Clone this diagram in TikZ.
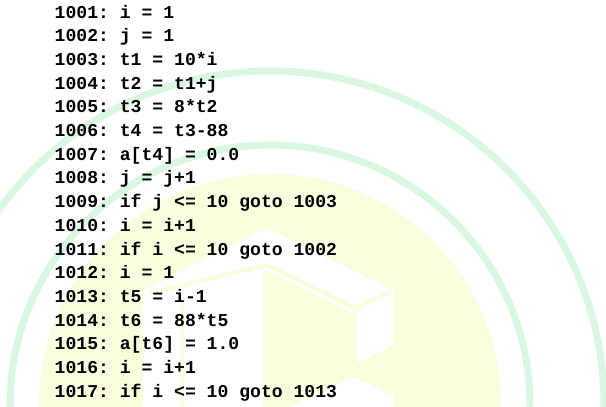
\documentclass[tikz,border=0pt]{standalone}
\usepackage{fontspec}
\setmonofont{Liberation Mono}
\definecolor{ringgreen}{RGB}{218,247,226}
\definecolor{paleyellow}{RGB}{250,254,222}
\tikzset{
  codeline/.style={anchor=base west, inner sep=0pt, font=\ttfamily\bfseries\fontsize{18.1}{20}\selectfont, text=black},
  ring/.style={draw=ringgreen, line width=7pt},
  cubeline/.style={draw=paleyellow, line width=4pt}
}
\begin{document}
\begin{tikzpicture}[x=1pt,y=-1pt]
\useasboundingbox (0,0) rectangle (606,407);
\fill[white] (0,0) rectangle (606,407);
% watermark
\begin{scope}
\clip (0,0) rectangle (606,407);
\draw[ring] (270,405) circle[radius=334];
\draw[ring] (270,405) circle[radius=260];
\fill[paleyellow] (270,405) circle[radius=231];
\fill[white] (143,290) -- (267,228) -- (393,290) -- (393,345) -- (357,363) -- (357,315) -- (267,270) -- (263,272) -- (263,407) -- (143,407) -- cycle;
\draw[cubeline] (150,293) -- (267,265) -- (355,308) -- (391,292);
\draw[cubeline] (355,308) -- (355,365);
\draw[cubeline] (182,300) -- (182,407);
\fill[white] (290,407) -- (353,377) -- (393,395) -- (393,407) -- cycle;
\end{scope}
% code
\node[codeline] (l1)  at (54.5,18.0) {1001: i = 1};
\node[codeline] (l2)  at (54.5,41.7) {1002: j = 1};
\node[codeline] (l3)  at (54.5,65.4) {1003: t1 = 10*i};
\node[codeline] (l4)  at (54.5,89.1) {1004: t2 = t1+j};
\node[codeline] (l5)  at (54.5,112.8) {1005: t3 = 8*t2};
\node[codeline] (l6)  at (54.5,136.5) {1006: t4 = t3-88};
\node[codeline] (l7)  at (54.5,160.2) {1007: a[t4] = 0.0};
\node[codeline] (l8)  at (54.5,183.9) {1008: j = j+1};
\node[codeline] (l9)  at (54.5,207.6) {1009: if j <= 10 goto 1003};
\node[codeline] (l10) at (54.5,231.3) {1010: i = i+1};
\node[codeline] (l11) at (54.5,255.0) {1011: if i <= 10 goto 1002};
\node[codeline] (l12) at (54.5,278.7) {1012: i = 1};
\node[codeline] (l13) at (54.5,302.4) {1013: t5 = i-1};
\node[codeline] (l14) at (54.5,326.1) {1014: t6 = 88*t5};
\node[codeline] (l15) at (54.5,349.8) {1015: a[t6] = 1.0};
\node[codeline] (l16) at (54.5,373.5) {1016: i = i+1};
\node[codeline] (l17) at (54.5,397.2) {1017: if i <= 10 goto 1013};
\end{tikzpicture}
\end{document}
